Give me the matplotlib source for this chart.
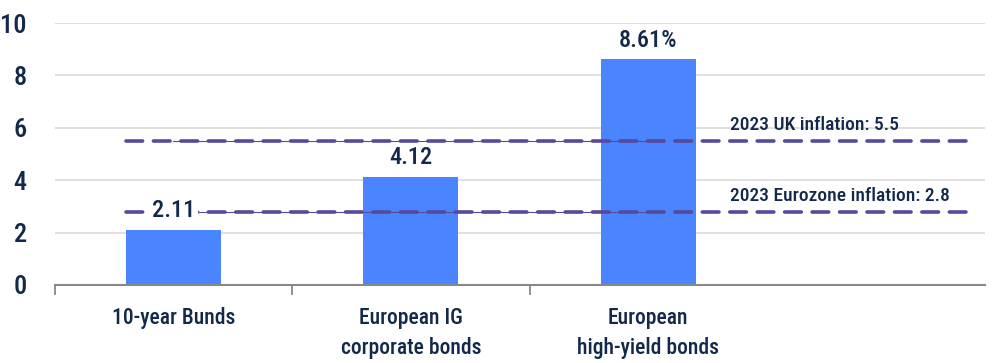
import matplotlib
matplotlib.use("Agg")
import matplotlib.pyplot as plt
from matplotlib import font_manager as fm

categories = ["10-year Bunds", "European IG\ncorporate bonds", "European\nhigh-yield bonds"]
values = [2.11, 4.12, 8.61]
value_labels = ["2.11", "4.12", "8.61%"]
inflation_names = ["2023 UK inflation: 5.5", "2023 Eurozone inflation: 2.8"]
inflation_values = [5.5, 2.8]
yticks = [0, 2, 4, 6, 8, 10]

avail = {f.name for f in fm.fontManager.ttflist}
fam = [f for f in ["Liberation Sans Narrow", "Roboto Condensed", "Open Sans Condensed", "Roboto", "DejaVu Sans"] if f in avail]
plt.rcParams['font.family'] = fam + ["DejaVu Sans"]
plt.rcParams['font.weight'] = 500

navy = "#13294b"
blue = "#4a84ff"
purple = "#56499e"

fig = plt.figure(figsize=(9.93, 3.63), dpi=100)
ax = fig.add_axes([0.0549, 0.215, 0.9371, 0.7216])

x = list(range(len(categories)))
ax.bar(x, values, width=0.4, color=blue, zorder=2)

ax.set_xlim(-0.5, 3.418)
ax.set_ylim(0, 10)
ax.set_yticks(yticks)
ax.set_yticklabels([str(t) for t in yticks])
ax.yaxis.grid(True, color="#dddddd", linewidth=1.3, zorder=0)
ax.set_axisbelow(True)

for s in ["top", "right", "left"]:
    ax.spines[s].set_visible(False)
ax.spines["bottom"].set_color("#888888")
ax.spines["bottom"].set_linewidth(1.5)
ax.spines["bottom"].set_zorder(3)

ax.set_xticks([-0.5, 0.5, 1.5])
ax.set_xticklabels([])
ax.tick_params(axis="x", length=7, width=1.3, color="#888888", direction="out")
ax.tick_params(axis="y", length=0, labelsize=19, labelcolor=navy, pad=20)
for i, c in enumerate(categories):
    ax.text(i, -0.85, c, ha="center", va="top", fontsize=15.5, color=navy,
            transform=ax.transData, linespacing=1.45)

for name, v in zip(inflation_names, inflation_values):
    ax.plot([0, 2], [v, v], color=purple, linewidth=0.8, zorder=3)
    ax.plot([-0.2, 3.38], [v, v], color=purple, linewidth=2.6,
            dashes=(4.6, 3.0), dash_capstyle="round", zorder=3)
    ax.text(2.344, v + 0.25, name, ha="left", va="bottom", fontsize=14, color=navy, zorder=4)

for i, (v, lab) in enumerate(zip(values, value_labels)):
    ax.text(i, v + 0.3, lab, ha="center", va="bottom", fontsize=17.5, color=navy, zorder=5,
            bbox=dict(facecolor="white", edgecolor="none", pad=2.5))

fig.savefig("out.png", dpi=100)
